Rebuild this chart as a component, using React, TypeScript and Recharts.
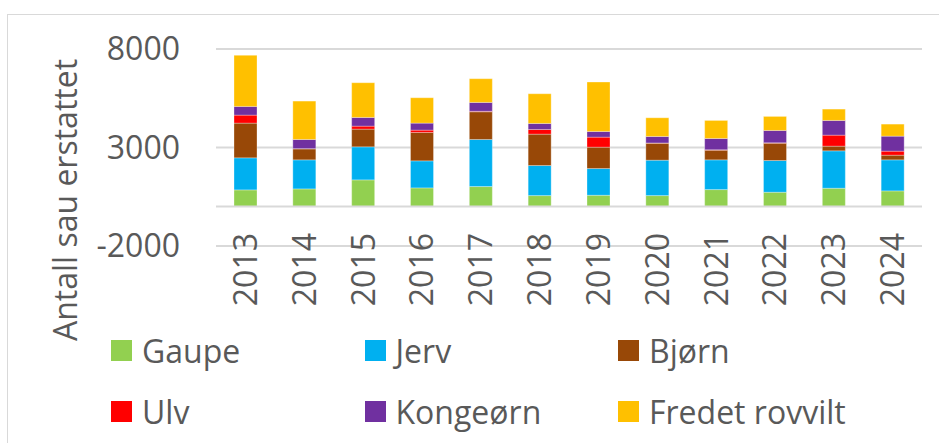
import React from 'react';
import { BarChart, Bar, XAxis, YAxis, CartesianGrid, ReferenceLine } from 'recharts';

// values (sheep compensated per predator)
const years = ['2013', '2014', '2015', '2016', '2017', '2018', '2019', '2020', '2021', '2022', '2023', '2024'];
const gaupe = [848, 898, 1356, 949, 1017, 559, 576, 559, 864, 729, 932, 797];
const jerv = [1627, 1475, 1678, 1373, 2390, 1526, 1356, 1797, 1509, 1610, 1899, 1576];
const bjorn = [1763, 559, 898, 1441, 1407, 1593, 1085, 864, 492, 881, 237, 237];
const ulv = [406, 10, 153, 119, 25, 237, 509, 10, 20, 20, 559, 204];
const kongeorn = [441, 465, 441, 356, 449, 306, 288, 330, 573, 625, 746, 762];
const fredet = [2593, 1949, 1762, 1288, 1204, 1508, 2508, 949, 915, 712, 576, 611];
const yTicks = [-2000, 3000, 8000];

const series = [
  { key: 'gaupe', name: 'Gaupe', color: '#92d050' },
  { key: 'jerv', name: 'Jerv', color: '#00b0f0' },
  { key: 'bjorn', name: 'Bjørn', color: '#984807' },
  { key: 'ulv', name: 'Ulv', color: '#ff0000' },
  { key: 'kongeorn', name: 'Kongeørn', color: '#7030a0' },
  { key: 'fredet', name: 'Fredet rovvilt', color: '#ffc000' },
];

const data = years.map((year, i) => ({
  year,
  gaupe: gaupe[i],
  jerv: jerv[i],
  bjorn: bjorn[i],
  ulv: ulv[i],
  kongeorn: kongeorn[i],
  fredet: fredet[i],
}));

if (typeof document !== 'undefined') document.body.style.margin = '0';

const FONT = '"Open Sans", sans-serif';
const TEXT = '#595959';

const YearTick = (props: any) => {
  const { x, y, payload } = props;
  return (
    <text
      x={x}
      y={y - 13}
      dy="0.36em"
      transform={`rotate(-90, ${x}, ${y - 13})`}
      textAnchor="end"
      fontSize={32}
      fontFamily={FONT}
      fill={TEXT}
    >
      {payload.value}
    </text>
  );
};

// legend drawn in html, 3 columns x 2 rows like the excel one
const LegendGrid = () => (
  <div style={{ position: 'absolute', left: 0, top: 330, width: 939, height: 100 }}>
    {series.map((s, i) => {
      const col = i % 3;
      const row = Math.floor(i / 3);
      return (
        <div
          key={s.key}
          style={{
            position: 'absolute',
            left: 111 + col * 253.5,
            top: row * 61,
            display: 'flex',
            alignItems: 'center',
            height: 40,
            fontFamily: FONT,
            fontSize: 32,
            color: TEXT,
            whiteSpace: 'nowrap',
          }}
        >
          <span style={{ width: 21, height: 21, background: s.color, display: 'inline-block', marginRight: 10 }} />
          <span>{s.name}</span>
        </div>
      );
    })}
  </div>
);

export default function App() {
  return (
    <div style={{ position: 'relative', width: 939, height: 443, overflow: 'hidden', background: '#fff' }}>
      <div
        style={{
          position: 'absolute',
          left: 7,
          top: 14,
          width: 950,
          height: 460,
          border: '1.5px solid #d9d9d9',
        }}
      />
      <BarChart
        width={939}
        height={443}
        data={data}
        margin={{ top: 49, right: 17, bottom: 167, left: 0 }}
        barSize={23}
      >
        <CartesianGrid vertical={false} stroke="#d9d9d9" strokeWidth={2} />
        <XAxis
          dataKey="year"
          axisLine={false}
          tickLine={false}
          tickSize={0}
          tickMargin={0}
          height={30}
          interval={0}
          tick={<YearTick />}
        />
        <YAxis
          domain={[-2000, 8000]}
          ticks={yTicks}
          width={216}
          axisLine={false}
          tickLine={false}
          tickSize={0}
          tickMargin={36}
          tick={{ fontSize: 32, fontFamily: FONT, fill: TEXT }}
          label={{
            content: () => (
              <text
                x={65}
                y={200}
                transform="rotate(-90, 65, 200)"
                textAnchor="middle"
                dy="0.36em"
                fontSize={32}
                fontFamily={FONT}
                fill={TEXT}
              >
                Antall sau erstattet
              </text>
            ),
          }}
        />
        <ReferenceLine y={0} stroke="#d9d9d9" strokeWidth={2} />
        {series.map(s => (
          <Bar
            key={s.key}
            dataKey={s.key}
            name={s.name}
            stackId="a"
            fill={s.color}
            stroke="#ffffff"
            strokeOpacity={0.4}
            strokeWidth={0.75}
            isAnimationActive={false}
          />
        ))}
      </BarChart>
      <LegendGrid />
    </div>
  );
}
